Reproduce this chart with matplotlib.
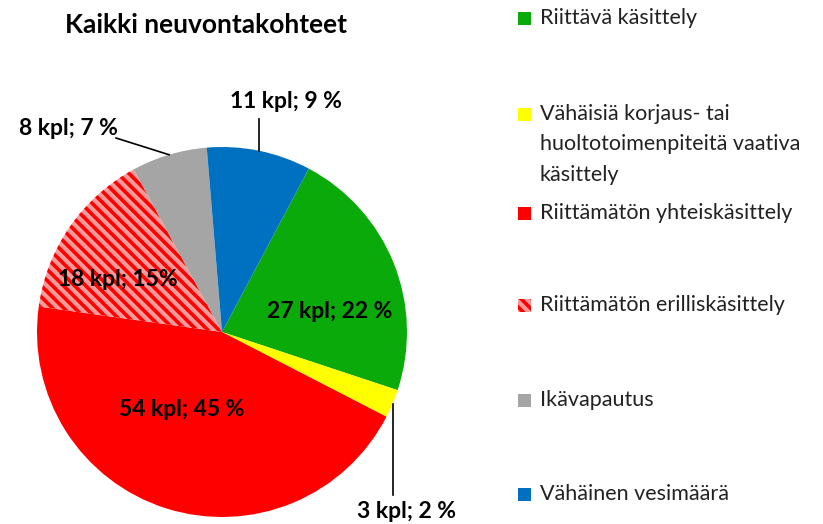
import numpy as np
import matplotlib
matplotlib.use('Agg')
import matplotlib.pyplot as plt
from matplotlib.patches import Rectangle

plt.rcParams['font.family'] = ['Lato', 'DejaVu Sans']
plt.rcParams['hatch.linewidth'] = 2.6

# data
categories = ['Riittävä käsittely',
              'Vähäisiä korjaus- tai\nhuoltotoimenpiteitä vaativa\nkäsittely',
              'Riittämätön yhteiskäsittely',
              'Riittämätön erilliskäsittely',
              'Ikävapautus',
              'Vähäinen vesimäärä']
counts = [27, 3, 54, 18, 8, 11]
pct_sep = [' ', ' ', ' ', '', ' ', ' ']
colors = ['#0AAA0A', '#FFFF00', '#FF0000', '#F79A9A', '#A5A5A5', '#0070C0']

total = sum(counts)
labels = [f'{c} kpl; {round(100 * c / total)}{s}%' for c, s in zip(counts, pct_sep)]

W, H = 823, 524
CX, CY, R = 222, 332, 185   # pie centre / radius in pixels

def px(x, y):
    return (x - CX) / R, (CY - y) / R

fig = plt.figure(figsize=(W / 100, H / 100), dpi=100)
ax = fig.add_axes([0, 0, 1, 1])

wedges, _ = ax.pie(counts, colors=colors, startangle=62, counterclock=False,
                   radius=1, wedgeprops=dict(linewidth=0))
# hatched slice: red stripes on light red
wedges[3].set_edgecolor('#FF0000')
wedges[3].set_hatch('\\\\\\')
wedges[3].set_linewidth(0)

ax.set_xlim((0 - CX) / R, (W - CX) / R)
ax.set_ylim((CY - H) / R, CY / R)
ax.set_aspect('equal', adjustable='box')
ax.axis('off')

# label layout (pixel centres); leader lines where the label sits outside
label_pos = [(330, 312), (407, 511), (182, 410), (118, 280), (68, 128), (286, 101)]
leader_end = [None, (393, 495), None, None, (116, 138), (259, 119)]

for w, lab, pos, le in zip(wedges, labels, label_pos, leader_end):
    ax.text(*px(*pos), lab, ha='center', va='center', fontsize=16.5,
            fontweight='bold', color='black')
    if le is not None:
        mid = np.deg2rad((w.theta1 + w.theta2) / 2)
        x0, y0 = np.cos(mid), np.sin(mid)
        x1, y1 = px(*le)
        if abs(x1 - x0) < 0.05:
            x1 = x0
        ax.plot([x0, x1], [y0, y1], color='black', linewidth=1.2)

ax.text(*px(206, 25), 'Kaikki neuvontakohteet', ha='center', va='center',
        fontsize=19, fontweight='bold')

# legend, drawn by hand to match the spacing
leg_y = [18, 114, 213, 305, 400, 494]
for i, (lab, col, y) in enumerate(zip(categories, colors, leg_y)):
    x0, y0 = px(518, y + 6.5)
    sq = Rectangle((x0, y0), 13 / R, 13 / R, facecolor=col, linewidth=0)
    if i == 3:
        sq.set_edgecolor('#FF0000')
        sq.set_hatch('\\\\\\')
    ax.add_patch(sq)
    for k, line in enumerate(lab.split('\n')):
        ax.text(*px(540, y + k * 30.5), line, ha='left', va='center',
                fontsize=15.5, color='#222222')

fig.savefig('out.png', dpi=100)
